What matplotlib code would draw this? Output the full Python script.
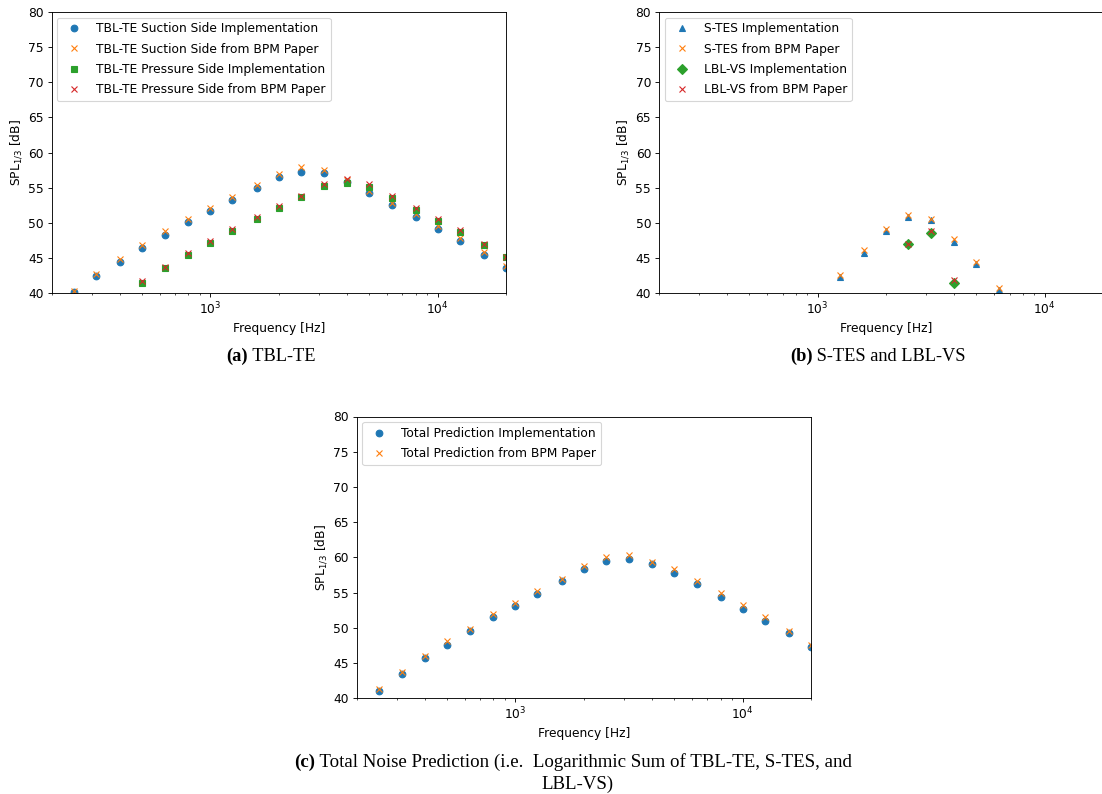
import matplotlib
matplotlib.use("Agg")
import matplotlib.pyplot as plt

# 1/3-octave band centre frequencies [Hz]
freq = [250, 315, 400, 500, 630, 800, 1000, 1250, 1600, 2000, 2500,
        3150, 4000, 5000, 6300, 8000, 10000, 12500, 16000, 20000]
freq_p = freq[3:]           # pressure side starts at 500 Hz
freq_s = freq[7:15]         # S-TES 1250 .. 6300 Hz
freq_lbl = [2500, 3150, 4000]

# (a) TBL-TE
ss_impl = [40.2, 42.4, 44.5, 46.5, 48.3, 50.2, 51.7, 53.3, 55.0, 56.5, 57.3,
           57.1, 55.8, 54.2, 52.6, 50.9, 49.2, 47.5, 45.5, 43.6]
ss_bpm = [40.3, 42.7, 44.9, 46.9, 48.8, 50.6, 52.2, 53.7, 55.4, 57.0, 57.9,
          57.5, 56.1, 54.5, 52.9, 51.3, 49.6, 47.8, 45.9, 43.9]
ps_impl = [41.4, 43.6, 45.5, 47.2, 48.9, 50.6, 52.2, 53.7, 55.2, 55.7,
           55.1, 53.5, 51.8, 50.3, 48.7, 46.9, 45.1]
ps_bpm = [41.8, 43.7, 45.7, 47.5, 49.1, 50.9, 52.4, 53.9, 55.5, 56.2,
          55.5, 53.8, 52.1, 50.6, 49.0, 47.0, 45.1]

# (b) S-TES and LBL-VS
stes_impl = [42.3, 45.8, 48.9, 50.9, 50.4, 47.3, 44.2, 40.5]
stes_bpm = [42.6, 46.1, 49.2, 51.2, 50.6, 47.7, 44.5, 40.8]
lbl_impl = [47.0, 48.6, 41.4]
lbl_bpm = [47.0, 48.8, 41.9]

# (c) total
tot_impl = [41.0, 43.4, 45.7, 47.6, 49.5, 51.5, 53.1, 54.8, 56.7, 58.3, 59.5,
            59.8, 59.0, 57.8, 56.2, 54.4, 52.7, 51.0, 49.2, 47.3]
tot_bpm = [41.3, 43.8, 46.0, 48.1, 49.9, 51.9, 53.5, 55.3, 57.0, 58.8, 60.1,
           60.3, 59.4, 58.3, 56.7, 54.9, 53.3, 51.6, 49.6, 47.6]

plt.rcParams["font.size"] = 11

W, H = 1102, 794
fig = plt.figure(figsize=(W / 80, H / 80), dpi=80)


def rect(l, t, r, b):
    return [l / W, 1 - b / H, (r - l) / W, (b - t) / H]


def setup(ax):
    ax.set_xscale("log")
    ax.set_xlim(200, 20000)
    ax.set_ylim(40, 80)
    ax.set_yticks(range(40, 81, 5))
    ax.set_xlabel("Frequency [Hz]")
    ax.set_ylabel("SPL$_{1/3}$ [dB]")
    ax.legend(loc="upper left", labelspacing=0.6, borderaxespad=0.45)


ax1 = fig.add_axes(rect(51.5, 12, 506, 293.3))
ax1.plot(freq, ss_impl, "o", color="C0", label="TBL-TE Suction Side Implementation")
ax1.plot(freq, ss_bpm, "x", color="C1", label="TBL-TE Suction Side from BPM Paper")
ax1.plot(freq_p, ps_impl, "s", color="C2", label="TBL-TE Pressure Side Implementation")
ax1.plot(freq_p, ps_bpm, "x", color="C3", label="TBL-TE Pressure Side from BPM Paper")
setup(ax1)

ax2 = fig.add_axes(rect(659, 12, 1113, 293.3))
ax2.plot(freq_s, stes_impl, "^", color="C0", label="S-TES Implementation")
ax2.plot(freq_s, stes_bpm, "x", color="C1", label="S-TES from BPM Paper")
ax2.plot(freq_lbl, lbl_impl, "D", color="C2", label="LBL-VS Implementation")
ax2.plot(freq_lbl, lbl_bpm, "x", color="C3", label="LBL-VS from BPM Paper")
setup(ax2)

ax3 = fig.add_axes(rect(356.7, 416.5, 811, 698.3))
ax3.plot(freq, tot_impl, "o", color="C0", label="Total Prediction Implementation")
ax3.plot(freq, tot_bpm, "x", color="C1", label="Total Prediction from BPM Paper")
setup(ax3)

# sub-figure captions: bold label + plain text, centred as one line
cap_font = "Liberation Serif"
cap_size = 16.5


def caption(xc, y, label, text, size=cap_size):
    a = fig.text(0, 1 - y / H, label, family=cap_font, size=size,
                 weight="bold", ha="left", va="center")
    b = fig.text(0, 1 - y / H, " " + text, family=cap_font, size=size,
                 ha="left", va="center")
    fig.canvas.draw()
    wa = a.get_window_extent().width
    wb = b.get_window_extent().width
    x0 = xc - (wa + wb) / 2
    a.set_x(x0 / W)
    b.set_x((x0 + wa) / W)


caption(271, 356, "(a)", "TBL-TE")
caption(878, 356, "(b)", "S-TES and LBL-VS")
caption(573, 762, "(c)", "Total Noise Prediction (i.e.  Logarithmic Sum of TBL-TE, S-TES, and",
        size=17)
fig.text(578 / W, 1 - 784 / H, "LBL-VS)", family=cap_font, size=17,
         ha="center", va="center")

fig.savefig("out.png", dpi=80)
